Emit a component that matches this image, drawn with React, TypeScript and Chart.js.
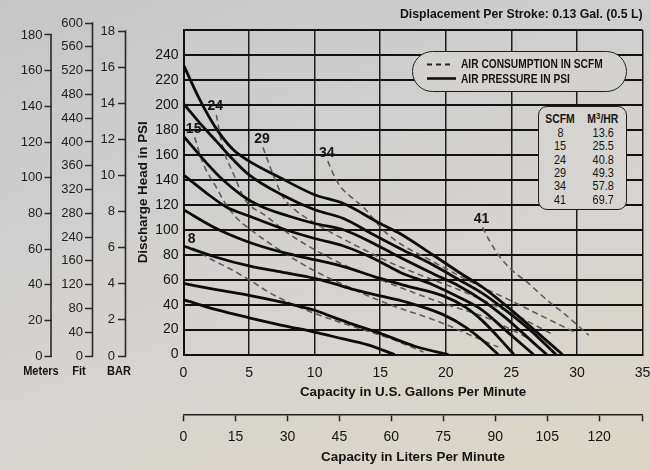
import React, { useEffect, useRef } from 'react';
import { Chart, registerables } from 'chart.js';

Chart.register(...registerables);

const FONT = "'Liberation Sans Narrow', 'Arial Narrow', 'Liberation Sans', Arial, sans-serif";

// ---- Air pressure curves (solid), points as [gpm, psi] ----
const airCurve1 = [[0, 232], [1.2, 205], [2.5, 181], [3.8, 164], [5, 155], [7.5, 141], [10, 128], [12.2, 121], [15, 105], [16.5, 97], [19, 80], [21, 66], [22.8, 54], [24.5, 40], [26.5, 22], [28.9, 0]];
const airCurve2 = [[0, 201], [1.2, 186], [2.5, 171], [3.8, 156], [5, 144], [7.5, 128], [10, 116], [12.2, 109], [14.5, 96], [16.5, 85], [19, 72], [21, 60], [22.8, 49], [24.5, 36], [26.5, 19], [28.4, 0]];
const airCurve3 = [[0, 175], [1.8, 153], [3, 140], [4.8, 125], [6.3, 117], [8, 111], [10, 105], [12.2, 100], [14.5, 89], [16.5, 78], [19, 65], [21, 55], [22.8, 43.5], [24.5, 30], [26, 16], [27.7, 0]];
const airCurve4 = [[0, 144], [1.8, 129], [3.3, 118], [5, 111], [7.5, 101], [10, 93], [12.2, 87], [14.5, 77], [16.5, 66], [19, 56], [21, 46], [22.8, 35.5], [24.5, 20], [26.7, 0]];
const airCurve5 = [[0, 116], [2.5, 101], [5, 90], [7.5, 82], [10, 76], [12, 71], [15, 61], [17, 55], [19.8, 47], [21.5, 38], [22.8, 27], [24, 14], [25.2, 0]];
const airCurve6 = [[0, 87], [2.5, 78], [5, 71], [7.5, 66], [10, 61], [11.4, 57], [13, 52], [15, 47], [17, 42], [19.8, 32], [21.5, 22], [22.8, 11.5], [24, 0]];
const airCurve7 = [[0, 57], [2.5, 52], [5, 47.5], [7.5, 42], [10, 35.5], [11.4, 30], [13, 24], [15, 17], [17.7, 6.5], [20.2, 0]];
const airCurve8 = [[0, 44], [2.5, 36], [5, 29.5], [7.5, 23.5], [10, 18], [12, 13], [14, 8], [16.1, 0]];

// ---- Air consumption curves (dashed), points as [gpm, psi] ----
const scfm8 = [[0.7, 85.5], [2, 77], [3.5, 69], [5, 60], [6.5, 50], [8.4, 40], [10, 33], [12.2, 25], [14, 19], [16, 12], [18.3, 2]];
const scfm15 = [[0.85, 174], [1.5, 153], [2.5, 134], [3.2, 121], [4, 110], [5, 101], [7.6, 82], [10, 67], [12.2, 56], [15, 43], [19.8, 25], [22, 15], [24, 6]];
const scfm24 = [[2.5, 192], [3, 166], [3.8, 145], [4.7, 124], [6.3, 111], [8, 97], [10, 84], [12.2, 72], [15, 60], [19.8, 41], [23, 30], [25, 20], [26.5, 12]];
const scfm29 = [[6.06, 166], [6.8, 145], [7.6, 126], [8.5, 116], [9.6, 108], [11.4, 97], [13.4, 86], [15.5, 75], [18, 64], [21, 52], [24, 38], [26, 28], [28, 17]];
const scfm34 = [[11, 155], [11.5, 143], [12, 134], [12.7, 127], [13.9, 116], [15.2, 100], [16.5, 89], [18.4, 78], [21.6, 60], [24.9, 43.5], [27.5, 30], [30, 17]];
const scfm41 = [[22.8, 102], [23.4, 90], [24, 80], [25, 68], [26.2, 58], [27.9, 42], [29, 33], [30, 24], [30.9, 15.5]];

const airCurves = [airCurve1, airCurve2, airCurve3, airCurve4, airCurve5, airCurve6, airCurve7, airCurve8];
const scfmCurves = [scfm8, scfm15, scfm24, scfm29, scfm34, scfm41];
const scfmNames = ['8', '15', '24', '29', '34', '41'];

// ---- Table ----
const tableScfm = ['8', '15', '24', '29', '34', '41'];
const tableM3hr = ['13.6', '25.5', '40.8', '49.3', '57.8', '69.7'];

// ---- Axis ranges / tick labels ----
const gpmRange = [0, 35];
const gpmStep = 5;
const psiRange = [0, 260];
const psiStep = 20;
const litersRange = [0, 132.5];
const litersStep = 15;
const meterTicksMax = 180;
const meterStep = 20;
const fitTickLabels = ['0', '40', '80', '120', '160', '240', '280', '320', '360', '400', '440', '480', '520', '560', '600'];
const barTicksMax = 18;
const barStep = 2;

const TXT = '#141414';

const curveLabelPlugin = {
  id: 'curveLabels',
  afterDatasetsDraw(chart: any) {
    const ctx = chart.ctx;
    chart.data.datasets.forEach((ds: any, i: number) => {
      if (!ds.curveLabel) return;
      const meta = chart.getDatasetMeta(i);
      const p = meta.data[0];
      if (!p) return;
      ctx.save();
      ctx.font = `bold 14px ${FONT}`;
      ctx.fillStyle = TXT;
      ctx.textAlign = 'center';
      ctx.textBaseline = 'alphabetic';
      ctx.fillText(ds.curveLabel, p.x - 1, p.y - 4.5);
      ctx.restore();
    });
  },
};

const axisLinePlugin = {
  id: 'axisLines',
  afterDraw(chart: any) {
    const ctx = chart.ctx;
    ['m', 'f', 'b'].forEach((id) => {
      const s = chart.scales[id];
      if (!s || !s.ticks.length) return;
      const top = s.getPixelForValue(s.ticks[s.ticks.length - 1].value);
      const bottom = s.getPixelForValue(0);
      ctx.save();
      ctx.strokeStyle = '#2a2a2a';
      ctx.lineWidth = 1.6;
      ctx.beginPath();
      ctx.moveTo(s.right - 0.5, top - 0.75);
      ctx.lineTo(s.right - 0.5, bottom + 0.75);
      ctx.stroke();
      ctx.restore();
    });
  },
};

const Cond = ({ children, scale = 0.85 }: { children: React.ReactNode; scale?: number }) => (
  <span style={{ display: 'inline-block', transform: `scaleX(${scale})`, transformOrigin: 'center' }}>{children}</span>
);

export default function App() {
  const mainRef = useRef<HTMLCanvasElement>(null);
  const leftRef = useRef<HTMLCanvasElement>(null);

  useEffect(() => {
    const tickFont = { family: FONT, size: 14 };
    const titleFont = { family: FONT, size: 13.4, weight: 'bold' as const };

    const datasets: any[] = [];
    airCurves.forEach((c, i) => {
      datasets.push({
        label: `air${i}`,
        data: c.map(([x, y]) => ({ x, y })),
        borderColor: '#0c0c0c',
        borderWidth: 2.8,
        pointRadius: 0,
        fill: false,
        cubicInterpolationMode: 'monotone',
        xAxisID: 'x',
        yAxisID: 'y',
      });
    });
    scfmCurves.forEach((c, i) => {
      datasets.push({
        label: `scfm${scfmNames[i]}`,
        curveLabel: scfmNames[i],
        data: c.map(([x, y]) => ({ x, y })),
        borderColor: '#5c5c5c',
        borderWidth: 1.6,
        borderDash: [6, 4],
        pointRadius: 0,
        fill: false,
        cubicInterpolationMode: 'monotone',
        xAxisID: 'x',
        yAxisID: 'y',
      });
    });

    const main = new Chart(mainRef.current as HTMLCanvasElement, {
      type: 'line',
      data: { datasets },
      plugins: [curveLabelPlugin],
      options: {
        animation: false,
        responsive: false,
        events: [],
        layout: { padding: { left: 126, right: 7.5, top: 0, bottom: 0 } },
        plugins: {
          legend: { display: false },
          tooltip: { enabled: false },
          title: {
            display: true,
            text: 'Displacement Per Stroke: 0.13 Gal. (0.5 L)',
            align: 'end',
            color: TXT,
            font: { family: FONT, size: 12.3, weight: 'bold' },
            padding: { top: 7, bottom: 8.24 },
          },
        },
        scales: {
          x: {
            type: 'linear',
            position: 'bottom',
            weight: 0,
            min: gpmRange[0],
            max: gpmRange[1],
            ticks: { stepSize: gpmStep, padding: 10.3, color: TXT, font: tickFont },
            grid: { color: '#1e1e1e', lineWidth: 1.5, drawTicks: false },
            border: { display: true, color: '#111', width: 2 },
            title: {
              display: true,
              text: 'Capacity in U.S. Gallons Per Minute',
              color: TXT,
              font: titleFont,
              padding: { top: 0, bottom: 14.3 },
            },
            afterFit: (s: any) => { s.height = 59.7; s.paddingLeft = 0; s.paddingRight = 0; },
          },
          x2: {
            type: 'linear',
            axis: 'x',
            position: 'bottom',
            weight: 1,
            min: litersRange[0],
            max: litersRange[1],
            afterBuildTicks: (s: any) => { s.ticks.push({ value: s.max }); },
            ticks: {
              stepSize: litersStep,
              includeBounds: false,
              padding: 7.6,
              color: TXT,
              font: tickFont,
              callback: (v: any) => (Number(v) % litersStep === 0 ? String(v) : ''),
            },
            grid: { drawOnChartArea: false, drawTicks: true, tickLength: 7, tickColor: '#222', tickWidth: 1.5, color: '#222' },
            border: { display: true, color: '#222', width: 1.5 },
            title: {
              display: true,
              text: 'Capacity in Liters Per Minute',
              color: TXT,
              font: titleFont,
              padding: { top: 0, bottom: 5 },
            },
            afterFit: (s: any) => { s.height = 55.7; s.paddingLeft = 0; s.paddingRight = 0; },
          },
          y: {
            type: 'linear',
            position: 'left',
            min: psiRange[0],
            max: psiRange[1],
            ticks: {
              stepSize: psiStep,
              padding: 5,
              color: TXT,
              font: tickFont,
              callback: (v: any) => (Number(v) >= psiRange[1] ? '' : String(v)),
            },
            grid: { color: '#111', lineWidth: 2, drawTicks: false },
            border: { display: true, color: '#111', width: 2 },
            title: {
              display: true,
              text: 'Discharge Head in PSI',
              color: TXT,
              font: titleFont,
              padding: { top: 9, bottom: 0 },
            },
            afterFit: (s: any) => { s.width = 57.5; },
          },
        },
      } as any,
    });

    const sideTick = { family: FONT, size: 13 };
    const left = new Chart(leftRef.current as HTMLCanvasElement, {
      type: 'line',
      data: { datasets: [] },
      plugins: [axisLinePlugin],
      options: {
        animation: false,
        responsive: false,
        events: [],
        layout: { padding: { left: 0, right: 0, top: 23, bottom: 114 } },
        plugins: { legend: { display: false }, tooltip: { enabled: false } },
        scales: {
          xx: { type: 'linear', axis: 'x', position: 'bottom', display: false, min: 0, max: 1 },
          m: {
            type: 'linear', axis: 'y', position: 'left', weight: 3,
            min: 0, max: meterTicksMax * 333 / 321,
            ticks: { stepSize: meterStep, includeBounds: false, padding: 2, color: '#222', font: sideTick },
            grid: { drawOnChartArea: false, drawTicks: true, tickLength: 7, tickColor: '#2a2a2a', tickWidth: 1.5 },
            border: { display: false },
            afterFit: (s: any) => { s.width = 51.5; },
          },
          f: {
            type: 'linear', axis: 'y', position: 'left', weight: 2,
            min: 0, max: fitTickLabels.length - 1,
            ticks: {
              stepSize: 1, includeBounds: false, padding: 2, color: '#222', font: sideTick,
              callback: (v: any) => fitTickLabels[Number(v)] ?? '',
            },
            grid: { drawOnChartArea: false, drawTicks: true, tickLength: 8, tickColor: '#2a2a2a', tickWidth: 1.5 },
            border: { display: false },
            afterFit: (s: any) => { s.width = 41.5; },
          },
          b: {
            type: 'linear', axis: 'y', position: 'left', weight: 1,
            min: 0, max: barTicksMax * 333 / 325,
            ticks: { stepSize: barStep, includeBounds: false, padding: 3, color: '#222', font: sideTick },
            grid: { drawOnChartArea: false, drawTicks: true, tickLength: 8, tickColor: '#2a2a2a', tickWidth: 1.5 },
            border: { display: false },
            afterFit: (s: any) => { s.width = 33; },
          },
        },
      } as any,
    });

    return () => {
      main.destroy();
      left.destroy();
    };
  }, []);

  const boldSmall: React.CSSProperties = { fontFamily: FONT, fontWeight: 'bold', color: TXT, position: 'absolute', whiteSpace: 'nowrap' };
  const cell: React.CSSProperties = { position: 'absolute', fontFamily: FONT, fontSize: 12.5, color: TXT, lineHeight: '14px', textAlign: 'center', whiteSpace: 'nowrap' };

  return (
    <div
      style={{
        position: 'fixed', left: 0, top: 0, width: 650, height: 470, overflow: 'hidden',
        background: 'linear-gradient(160deg, #c6c6c6 0%, #cfcfcf 35%, #d7d5d0 65%, #ddd6c6 100%)',
      }}
    >
      <canvas ref={mainRef} width={650} height={470} style={{ position: 'absolute', left: 0, top: 0 }} />
      <canvas ref={leftRef} width={140} height={470} style={{ position: 'absolute', left: 0, top: 0 }} />

      {/* side axis names */}
      <div style={{ ...boldSmall, fontSize: 13, left: 16, width: 50, top: 363, textAlign: 'center' }}><Cond>Meters</Cond></div>
      <div style={{ ...boldSmall, fontSize: 13, left: 64, width: 30, top: 363, textAlign: 'center' }}><Cond>Fit</Cond></div>
      <div style={{ ...boldSmall, fontSize: 13, left: 103, width: 32, top: 363, textAlign: 'center' }}><Cond>BAR</Cond></div>

      {/* legend */}
      <div
        style={{
          position: 'absolute', left: 412, top: 51, width: 215, height: 41, boxSizing: 'border-box',
          border: '1.5px solid #1e1e1e', borderRadius: 21, background: '#d3d2cf',
        }}
      >
        <svg width={45} height={41} style={{ position: 'absolute', left: 0, top: 0 }}>
          <line x1={14} y1={12.5} x2={40} y2={12.5} stroke="#222" strokeWidth={1.8} strokeDasharray="5 4" />
          <line x1={14} y1={26.5} x2={43} y2={26.5} stroke="#111" strokeWidth={2.6} />
        </svg>
        <div style={{ ...boldSmall, fontSize: 12, left: 48, top: 4, lineHeight: '16px', transform: 'scaleX(0.85)', transformOrigin: 'left' }}>AIR CONSUMPTION IN SCFM</div>
        <div style={{ ...boldSmall, fontSize: 12, left: 48, top: 19, lineHeight: '16px', transform: 'scaleX(0.85)', transformOrigin: 'left' }}>AIR PRESSURE IN PSI</div>
      </div>

      {/* SCFM / M3/HR table */}
      <div
        style={{
          position: 'absolute', left: 538, top: 106, width: 89, height: 104, boxSizing: 'border-box',
          border: '1.5px solid #1e1e1e', borderRadius: 9, background: '#d5d4d1',
        }}
      >
        <div style={{ ...boldSmall, fontSize: 12, left: 2, width: 38, top: 5, lineHeight: '15px', textAlign: 'center' }}><Cond scale={0.87}>SCFM</Cond></div>
        <div style={{ ...boldSmall, fontSize: 12, left: 42, width: 44, top: 5, lineHeight: '15px', textAlign: 'center' }}>
          <Cond scale={0.87}>M<sup style={{ fontSize: 9, verticalAlign: 'top', lineHeight: '9px' }}>3</sup>/HR</Cond>
        </div>
        {tableScfm.map((s, i) => (
          <React.Fragment key={s}>
            <div style={{ ...cell, left: 2, width: 38, top: 19 + i * 13.3 }}><Cond scale={0.87}>{s}</Cond></div>
            <div style={{ ...cell, left: 42, width: 44, top: 19 + i * 13.3 }}><Cond scale={0.87}>{tableM3hr[i]}</Cond></div>
          </React.Fragment>
        ))}
      </div>
    </div>
  );
}
